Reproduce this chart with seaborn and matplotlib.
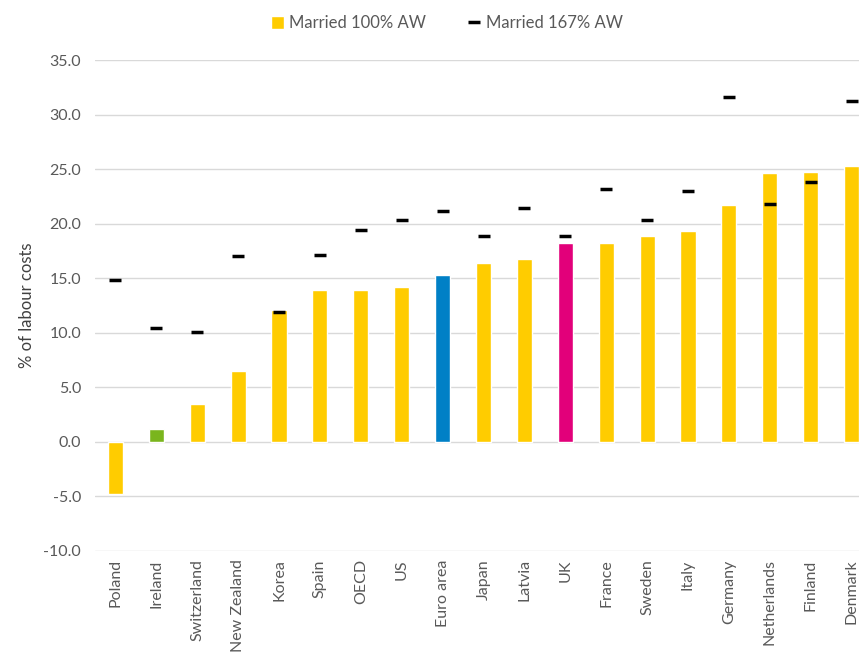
import numpy as np
import pandas as pd
import matplotlib
matplotlib.use('Agg')
import matplotlib.pyplot as plt
import seaborn as sns
from matplotlib.lines import Line2D
from matplotlib.patches import Patch
from matplotlib.ticker import FormatStrFormatter

countries = ['Poland', 'Ireland', 'Switzerland', 'New Zealand', 'Korea', 'Spain',
             'OECD', 'US', 'Euro area', 'Japan', 'Latvia', 'UK', 'France', 'Sweden',
             'Italy', 'Germany', 'Netherlands', 'Finland', 'Denmark']
married_100 = [-4.8, 1.2, 3.5, 6.5, 12.1, 13.9, 13.9, 14.2, 15.3, 16.4, 16.8, 18.2,
               18.2, 18.9, 19.3, 21.7, 24.6, 24.7, 25.3]
married_167 = [14.8, 10.4, 10.1, 17.0, 11.9, 17.1, 19.4, 20.3, 21.2, 18.9, 21.4, 18.9,
               23.2, 20.3, 23.0, 31.6, 21.8, 23.8, 31.2]

yellow = '#FFCC00'
highlight = {'Ireland': '#7AB51D', 'Euro area': '#0080C6', 'UK': '#E2007A'}
palette = [highlight.get(c, yellow) for c in countries]

sns.set_style('white')
plt.rcParams['font.family'] = ['Lato', 'DejaVu Sans']
plt.rcParams['axes.unicode_minus'] = False

df = pd.DataFrame({'country': countries, 'm100': married_100, 'm167': married_167})

fig = plt.figure(figsize=(8.59, 6.59), dpi=100)
ax = fig.add_axes([95 / 859, 108 / 659, 777 / 859, 491 / 659])

sns.barplot(data=df, x='country', y='m100', hue='country', palette=palette,
            legend=False, width=0.37, saturation=1, ax=ax, zorder=2)
ax.plot(np.arange(len(countries)), married_167, linestyle='none', marker='_',
        color='black', markersize=8, markeredgewidth=2.5, zorder=3)

ax.set_ylim(-10, 35)
ax.set_xlim(-0.5, len(countries) - 0.5)
ax.set_yticks(np.arange(-10, 36, 5))
ax.yaxis.set_major_formatter(FormatStrFormatter('%.1f'))
ax.grid(axis='y', color='#d9d9d9', linewidth=1, zorder=0)
ax.set_axisbelow(True)
for s in ax.spines.values():
    s.set_visible(False)

ax.tick_params(axis='both', length=0, labelsize=11.5, colors='#595959', pad=10)
ax.tick_params(axis='x', pad=6)
plt.setp(ax.get_xticklabels(), rotation=90)
ax.set_xlabel('')
ax.set_ylabel('% of labour costs', fontsize=12, color='#404040', labelpad=6)

handles = [Patch(facecolor=yellow, label='Married 100% AW'),
           Line2D([0], [0], color='black', marker='_', linestyle='none',
                  markersize=8, markeredgewidth=2.5, label='Married 167% AW')]
fig.legend(handles=handles, loc='upper center', bbox_to_anchor=(0.52, 1.0), ncol=2,
           frameon=False, fontsize=12, handlelength=0.8, handleheight=0.8,
           handletextpad=0.3, columnspacing=2.5, labelcolor='#595959')

plt.savefig('out.png', dpi=100)
print("Saved: out.png")
